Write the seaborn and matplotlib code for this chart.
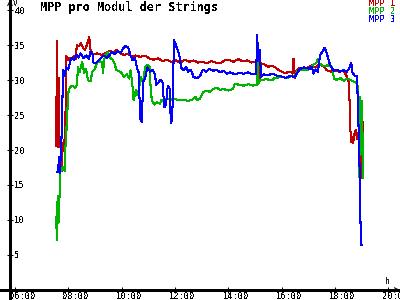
import matplotlib
matplotlib.use("Agg")
import matplotlib.pyplot as plt
import seaborn as sns
import pandas as pd
from matplotlib.transforms import ScaledTranslation

# ---------------- data ----------------
series_names = ["MPP 1", "MPP 2", "MPP 3"]
series_colors = ["#c00000", "#00b400", "#0000ff"]

mpp1_time = ["7:33", "7:34", "7:36", "7:38", "7:40", "7:42", "7:45", "7:47", "7:50", "7:53",
             "7:55", "7:58", "8:02", "8:06", "8:12", "8:17", "8:19", "8:24", "8:28", "8:33",
             "8:37", "8:42", "8:47", "8:50", "8:55", "9:04", "9:15", "9:25", "9:34", "9:40",
             "9:48", "9:56", "10:04", "10:14", "10:22", "10:32", "10:42", "10:52", "11:02", "11:12",
             "11:22", "11:32", "11:42", "11:52", "12:02", "12:12", "12:22", "12:32", "12:42", "12:52",
             "13:02", "13:12", "13:22", "13:32", "13:42", "13:52", "14:02", "14:12", "14:22", "14:32",
             "14:42", "14:52", "15:03", "15:06", "15:08", "15:11", "15:14", "15:22", "15:30", "15:41",
             "15:50", "15:56", "16:08", "16:20", "16:25", "16:27", "16:30", "16:34", "16:41", "16:50",
             "17:00", "17:08", "17:15", "17:25", "17:35", "17:42", "17:52", "18:00", "18:10", "18:20",
             "18:27", "18:32", "18:35", "18:37", "18:39", "18:41", "18:44", "18:47", "18:50", "18:52",
             "18:56", "18:59", "19:01", "19:02", "19:03", "19:04"]
mpp1_volt = [20.5, 35.6, 20.4, 30.3, 20.6, 21.0, 17.0, 20.0, 21.5, 20.8,
             33.5, 32.8, 33.2, 32.9, 33.4, 33.0, 35.0, 34.8, 35.3, 34.6,
             34.3, 35.0, 36.2, 34.3, 33.7, 33.8, 33.6, 33.9, 34.2, 33.8,
             34.3, 33.9, 33.6, 33.7, 33.4, 33.5, 33.3, 33.5, 33.1, 32.9,
             33.1, 32.7, 32.9, 32.6, 32.8, 32.5, 32.9, 32.6, 32.8, 32.5,
             32.6, 32.4, 32.7, 32.5, 32.4, 32.8, 32.9, 32.6, 33.0, 32.7,
             32.8, 32.5, 32.6, 29.3, 32.9, 29.8, 32.4, 32.2, 31.9, 32.0,
             31.6, 31.3, 31.0, 31.2, 30.9, 33.0, 30.3, 31.4, 31.7, 31.5,
             31.8, 32.1, 31.8, 32.2, 31.9, 31.4, 31.2, 31.4, 31.2, 31.3,
             30.5, 29.5, 22.9, 21.2, 21.8, 21.0, 22.2, 22.9, 21.5, 22.5,
             21.5, 16.5, 16.0, 17.0, 24.0, 22.5]

mpp2_time = ["7:33", "7:34", "7:36", "7:38", "7:40", "7:42", "7:45", "7:48", "7:52", "7:55",
             "7:57", "7:59", "8:04", "8:10", "8:15", "8:19", "8:22", "8:26", "8:31", "8:36",
             "8:40", "8:44", "8:50", "8:54", "9:00", "9:04", "9:10", "9:16", "9:18", "9:22",
             "9:29", "9:34", "9:40", "9:45", "9:48", "9:54", "10:00", "10:05", "10:12", "10:17",
             "10:20", "10:24", "10:27", "10:32", "10:36", "10:40", "10:44", "10:48", "10:53", "10:58",
             "11:03", "11:06", "11:09", "11:14", "11:20", "11:26", "11:30", "11:35", "11:40", "11:50",
             "12:00", "12:10", "12:20", "12:30", "12:40", "12:46", "12:50", "12:56", "13:03", "13:10",
             "13:18", "13:26", "13:34", "13:41", "13:50", "14:00", "14:11", "14:15", "14:25", "14:35",
             "14:45", "14:55", "15:04", "15:06", "15:08", "15:12", "15:25", "15:40", "15:45", "16:00",
             "16:15", "16:20", "16:30", "16:36", "16:45", "16:55", "17:05", "17:12", "17:18", "17:22",
             "17:26", "17:35", "17:45", "17:54", "17:58", "18:05", "18:12", "18:20", "18:28", "18:35",
             "18:44", "18:50", "18:53", "18:55", "18:57", "18:59", "19:01", "19:03", "19:04"]
mpp2_volt = [10.4, 7.1, 13.5, 9.6, 13.0, 16.9, 17.2, 17.6, 17.0, 23.3,
             22.8, 28.0, 29.0, 29.2, 28.9, 29.3, 31.8, 31.2, 32.6, 31.0,
             31.6, 30.0, 29.8, 31.2, 31.6, 32.4, 32.7, 32.5, 31.0, 33.4,
             34.0, 33.2, 32.9, 32.2, 31.4, 31.3, 31.0, 30.4, 30.8, 30.2,
             31.4, 29.5, 27.1, 28.6, 27.8, 29.1, 30.4, 29.6, 31.8, 32.2,
             31.9, 28.0, 27.0, 26.5, 26.8, 26.6, 27.2, 27.0, 27.3, 27.2,
             27.3, 27.1, 27.2, 27.0, 27.2, 27.6, 27.1, 27.3, 28.2, 28.5,
             28.3, 28.7, 28.9, 28.6, 28.7, 28.5, 28.7, 29.5, 29.3, 29.2,
             29.4, 29.2, 29.3, 32.5, 29.5, 30.0, 30.1, 30.0, 30.3, 30.4,
             30.3, 30.5, 30.6, 31.3, 31.5, 31.4, 31.6, 32.2, 32.4, 33.0,
             32.3, 32.0, 32.1, 31.9, 30.2, 30.0, 30.3, 29.9, 30.2, 30.0,
             29.7, 29.6, 28.3, 16.1, 27.6, 21.9, 27.0, 16.0, 22.5]

mpp3_time = ["7:34", "7:37", "7:39", "7:41", "7:44", "7:46", "7:48", "7:51", "7:55", "8:00",
             "8:04", "8:08", "8:13", "8:18", "8:23", "8:28", "8:34", "8:40", "8:46", "8:50",
             "8:54", "8:57", "9:03", "9:08", "9:14", "9:20", "9:27", "9:33", "9:38", "9:45",
             "9:52", "9:58", "10:03", "10:09", "10:15", "10:20", "10:25", "10:30", "10:35", "10:38",
             "10:42", "10:45", "10:49", "10:53", "10:58", "11:04", "11:10", "11:15", "11:18", "11:22",
             "11:27", "11:32", "11:36", "11:40", "11:44", "11:48", "11:51", "11:54", "11:58", "12:01",
             "12:06", "12:10", "12:14", "12:20", "12:25", "12:30", "12:36", "12:42", "12:50", "12:56",
             "13:03", "13:10", "13:18", "13:26", "13:34", "13:41", "13:50", "13:57", "14:05", "14:15",
             "14:25", "14:35", "14:45", "14:55", "15:03", "15:05", "15:08", "15:11", "15:14", "15:20",
             "15:30", "15:40", "15:50", "16:00", "16:10", "16:20", "16:30", "16:35", "16:42", "16:50",
             "16:58", "17:04", "17:08", "17:12", "17:17", "17:22", "17:27", "17:32", "17:37", "17:42",
             "17:47", "17:52", "17:58", "18:05", "18:12", "18:20", "18:27", "18:32", "18:37", "18:40",
             "18:45", "18:50", "18:55", "18:58", "19:00", "19:01"]
mpp3_volt = [16.9, 16.8, 19.0, 16.7, 20.5, 24.3, 31.4, 30.5, 31.8, 31.5,
             32.6, 33.2, 32.8, 33.6, 33.2, 33.8, 33.1, 33.5, 33.0, 34.0,
             33.9, 32.4, 32.5, 32.8, 33.2, 33.5, 33.2, 33.6, 34.0, 33.7,
             34.1, 33.9, 34.5, 34.9, 34.6, 33.5, 32.8, 33.2, 31.6, 31.2,
             24.5, 24.0, 29.8, 30.3, 31.8, 31.2, 31.4, 30.8, 29.3, 29.6,
             30.0, 29.7, 26.1, 26.5, 29.2, 28.8, 23.8, 24.5, 35.7, 35.2,
             34.3, 33.5, 31.8, 31.4, 31.9, 31.2, 31.5, 30.4, 30.3, 30.5,
             31.5, 31.2, 31.6, 31.3, 31.5, 31.1, 31.3, 30.9, 31.1, 30.8,
             31.0, 30.9, 31.1, 30.8, 30.9, 36.4, 33.0, 34.3, 30.4, 30.8,
             30.7, 30.9, 30.6, 30.5, 30.3, 30.6, 30.4, 31.0, 31.6, 31.8,
             31.7, 31.6, 31.9, 30.9, 31.5, 31.2, 33.6, 34.0, 34.6, 33.8,
             32.6, 31.8, 31.3, 31.5, 31.2, 31.4, 31.2, 31.6, 32.4, 31.0,
             30.6, 30.5, 20.0, 9.0, 6.4, 6.4]

x_ticks = [6, 8, 10, 12, 14, 16, 18, 20]
x_tick_labels = ["06:00", "08:00", "10:00", "12:00", "14:00", "16:00", "18:00", "20:00"]
y_ticks = [5, 10, 15, 20, 25, 30, 35, 40]
title = "MPP pro Modul der Strings"


def to_hours(s):
    h, m = s.split(":")
    return int(h) + int(m) / 60.0


frames = []
for name, tt, vv in zip(series_names, [mpp1_time, mpp2_time, mpp3_time],
                        [mpp1_volt, mpp2_volt, mpp3_volt]):
    frames.append(pd.DataFrame({"t": [to_hours(s) for s in tt], "v": vv, "series": name}))
df = pd.concat(frames, ignore_index=True)

# ---------------- style ----------------
sns.set_style("ticks")
plt.rcParams["font.family"] = ["DejaVu Sans Mono"]
plt.rcParams["text.antialiased"] = False

fig = plt.figure(figsize=(4, 3), dpi=100)
fig.patch.set_facecolor("white")
ax = fig.add_axes([0, 0, 1, 1])
ax.set_facecolor("white")

sns.lineplot(data=df, x="t", y="v", hue="series", hue_order=series_names,
             palette=dict(zip(series_names, series_colors)), estimator=None,
             sort=False, legend=False, linewidth=0.75, ax=ax, antialiased=False)

ax.set_xlim(5.437, 20.446)
ax.set_ylim(-1.43, 41.43)
x0 = 5.81
ax.spines["top"].set_visible(False)
ax.spines["right"].set_visible(False)
ax.spines["left"].set_position(("data", x0))
ax.spines["bottom"].set_position(("data", 0))
for s in ("left", "bottom"):
    ax.spines[s].set_color("black")
    ax.spines[s].set_linewidth(0.75)
    ax.spines[s].set_antialiased(False)

ax.set_xticks(x_ticks)
ax.set_xticklabels(x_tick_labels)
ax.set_yticks(y_ticks)
ax.set_xlabel("")
ax.set_ylabel("")
ax.tick_params(axis="both", which="major", direction="inout", length=5, width=0.75,
               colors="black", labelsize=6.2, left=True, bottom=True)
ax.tick_params(axis="x", pad=-1.3)
ax.tick_params(axis="y", pad=-5.6)
plt.setp(ax.get_yticklabels(), ha="left")
for lbl in ax.get_xticklabels():
    lbl.set_transform(lbl.get_transform() + ScaledTranslation(7.5 / 100, 0, fig.dpi_scale_trans))

# axis arrows
ax.annotate("", xy=(x0, 41.43), xytext=(x0, 39.5),
            arrowprops=dict(arrowstyle="->", lw=0.75, color="black",
                            shrinkA=0, shrinkB=0, mutation_scale=8), annotation_clip=False)
ax.annotate("", xy=(20.446, 0), xytext=(19.9, 0),
            arrowprops=dict(arrowstyle="->", lw=0.75, color="black",
                            shrinkA=0, shrinkB=0, mutation_scale=8), annotation_clip=False)

# axis unit labels
fig.text(13 / 400, 1 - 4 / 300, "V", fontsize=6, ha="left", va="center")
fig.text(388 / 400, 1 - 281 / 300, "h", fontsize=6, ha="center", va="center")

# title
fig.text(40 / 400, 1 - 7.5 / 300, title, fontsize=8.5, fontweight="bold",
         ha="left", va="center", color="black")

# legend as coloured text
for i, (name, col) in enumerate(zip(series_names, series_colors)):
    fig.text(395 / 400, 1 - (4 + 7.5 * i) / 300, name, fontsize=6.2, color=col,
             ha="right", va="center")

fig.savefig("out.png", dpi=100, facecolor="white")
